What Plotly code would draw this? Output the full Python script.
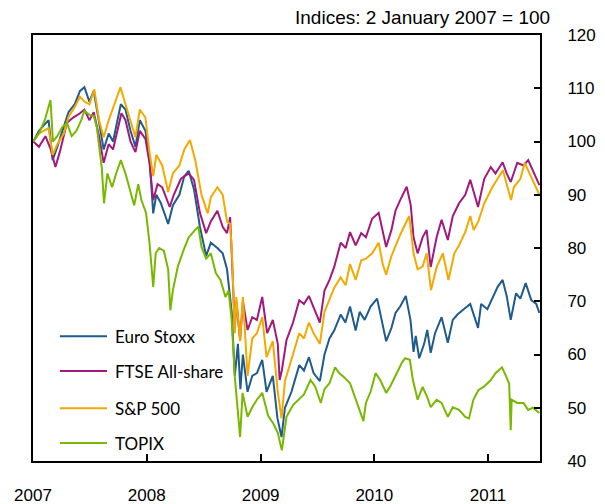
import plotly.graph_objects as go

# index values, 2 January 2007 = 100
euro_dates = ['2007-01-02','2007-01-20','2007-02-20','2007-03-05','2007-03-20','2007-04-10','2007-04-25','2007-05-15','2007-06-01','2007-06-15','2007-07-01','2007-07-15','2007-08-01','2007-08-16','2007-09-01','2007-09-15','2007-10-10','2007-10-25','2007-11-10','2007-11-26','2007-12-10','2007-12-28',
              '2008-01-10','2008-01-22','2008-02-01','2008-02-15','2008-03-10','2008-03-25','2008-04-15','2008-05-01','2008-05-15','2008-06-01','2008-06-20','2008-07-10','2008-07-25','2008-08-15','2008-09-01','2008-09-15','2008-09-30','2008-10-10','2008-10-20','2008-10-28','2008-11-05','2008-11-20','2008-12-05','2008-12-20',
              '2009-01-06','2009-01-20','2009-02-09','2009-02-24','2009-03-09','2009-03-20','2009-04-10','2009-05-05','2009-05-20','2009-06-05','2009-06-20','2009-07-10','2009-07-25','2009-08-10','2009-08-25','2009-09-15','2009-09-30','2009-10-15','2009-11-02','2009-11-15','2009-12-01','2009-12-20',
              '2010-01-10','2010-01-25','2010-02-08','2010-02-25','2010-03-10','2010-03-25','2010-04-12','2010-04-27','2010-05-07','2010-05-14','2010-05-25','2010-06-10','2010-06-20','2010-07-01','2010-07-15','2010-08-05','2010-08-25','2010-09-10','2010-09-25','2010-10-15','2010-11-05','2010-11-30','2010-12-10','2010-12-30',
              '2011-01-15','2011-02-01','2011-02-17','2011-03-02','2011-03-15','2011-04-01','2011-04-15','2011-05-02','2011-05-20','2011-06-05','2011-06-15']
euro_vals = [100,102,104,96.5,99,103,105.5,107,109.5,110.2,107.5,109.5,104,98.5,101.5,100,107,106,102,99,104,102,
             97,86.5,90,88.5,84.5,88,90,93.5,94.5,91,84,78.5,81,80,79,76,68,56,62,53.5,60,53,56,56.5,
             59,53,56,48,44.5,50,53,58,57,59.5,56.5,55,60,63,64.5,67.5,66,69,64.5,68,66.5,69,
             70.5,66,62.5,65,67.8,69,71,66.5,60.5,63.5,59.3,62,64.6,60.3,64,67,62.2,66.5,67.5,68.5,69.5,65,69.5,68.5,
             70.5,72.7,74,71,66.5,71.5,70.5,73.4,70.2,69.5,67.8]

ftse_dates = ['2007-01-02','2007-01-20','2007-02-10','2007-02-27','2007-03-14','2007-03-28','2007-04-20','2007-05-10','2007-06-01','2007-06-15','2007-07-01','2007-07-15','2007-08-01','2007-08-16','2007-09-01','2007-09-15','2007-10-12','2007-10-25','2007-11-10','2007-11-26','2007-12-10','2007-12-28',
              '2008-01-10','2008-01-22','2008-02-05','2008-02-20','2008-03-15','2008-03-28','2008-04-20','2008-05-15','2008-06-01','2008-06-20','2008-07-10','2008-07-25','2008-08-15','2008-09-01','2008-09-15','2008-09-25','2008-10-01','2008-10-10','2008-10-15','2008-10-27','2008-11-05','2008-11-20','2008-12-05','2008-12-20',
              '2009-01-06','2009-01-22','2009-02-09','2009-02-25','2009-03-03','2009-03-10','2009-03-25','2009-04-15','2009-05-05','2009-05-20','2009-06-05','2009-06-20','2009-07-10','2009-07-25','2009-08-10','2009-08-25','2009-09-15','2009-10-01','2009-10-15','2009-11-02','2009-11-20','2009-12-05','2009-12-25',
              '2010-01-15','2010-01-28','2010-02-08','2010-02-25','2010-03-10','2010-03-25','2010-04-15','2010-04-28','2010-05-07','2010-05-20','2010-06-05','2010-06-18','2010-07-01','2010-07-20','2010-08-05','2010-08-25','2010-09-10','2010-09-30','2010-10-20','2010-11-05','2010-11-30','2010-12-20',
              '2011-01-10','2011-01-25','2011-02-17','2011-03-02','2011-03-15','2011-04-05','2011-04-25','2011-05-10','2011-05-25','2011-06-15']
ftse_vals = [100,99,101,98.5,95.2,98,103.5,104.5,105.3,106,104,105.5,101,96,99.5,98.5,105.3,104,100,98,102,100.5,
             96,89,92,91.4,87.7,90,93,94,92.8,86.6,82.8,85,87,84,82.8,85.8,77.7,65,70,62.7,70,64.6,67,66.5,
             70.8,64,66.5,62,55.2,57,62.7,66,70.2,69.5,71,69,66,72,74,76.4,81,80,83,80.5,82.8,82,85.5,
             86.6,83,80.2,83.4,87,89,91.5,88,82,79,82,83.4,76.4,82,85.3,81.5,86,88.4,90,92.8,87.7,93,
             95.2,94,96.1,94,92.4,96,95.5,96.5,94.6,91.8]

sp_dates = ['2007-01-02','2007-01-20','2007-02-20','2007-03-05','2007-03-20','2007-04-10','2007-04-25','2007-05-15','2007-06-01','2007-06-15','2007-07-01','2007-07-17','2007-08-01','2007-08-16','2007-09-01','2007-09-20','2007-10-09','2007-10-25','2007-11-10','2007-11-26','2007-12-10','2007-12-28',
            '2008-01-10','2008-01-22','2008-02-01','2008-02-20','2008-03-10','2008-03-25','2008-04-15','2008-05-01','2008-05-19','2008-06-05','2008-06-25','2008-07-15','2008-07-25','2008-08-15','2008-09-01','2008-09-15','2008-09-25','2008-10-01','2008-10-10','2008-10-15','2008-10-27','2008-11-05','2008-11-20','2008-12-05','2008-12-20',
            '2009-01-06','2009-01-20','2009-02-09','2009-02-25','2009-03-09','2009-03-20','2009-04-10','2009-05-05','2009-05-20','2009-06-05','2009-06-20','2009-07-10','2009-07-25','2009-08-10','2009-08-25','2009-09-15','2009-10-01','2009-10-15','2009-11-02','2009-11-20','2009-12-05','2009-12-25',
            '2010-01-15','2010-01-28','2010-02-08','2010-02-25','2010-03-10','2010-03-25','2010-04-23','2010-05-07','2010-05-20','2010-06-05','2010-06-18','2010-07-02','2010-07-20','2010-08-09','2010-08-27','2010-09-15','2010-09-30','2010-10-20','2010-11-05','2010-11-16','2010-12-01','2010-12-20',
            '2011-01-15','2011-02-18','2011-03-02','2011-03-16','2011-03-25','2011-04-15','2011-04-29','2011-05-20','2011-06-15']
sp_vals = [100,101.5,102.5,97.5,99.5,101.5,104.6,106.5,108.4,107.5,107,109.8,104,100.8,104,107,110.2,107,104,100.8,106,104.5,
           98,93.5,97.5,95.5,90.5,94,95.5,98.5,100.3,96.5,90,86.5,89.5,91.4,90,85,84.5,79,64,70.8,62.5,70.8,56,63,64,
           67,59.5,62.5,53,48,55,59,64,63,66,64,62,68,70.5,72.5,74.5,73,77,74,77.7,78,79,
           81,77,75,78.5,80.5,82.5,86,79,76,76.5,79,72.1,76.4,79,74,79,80.5,83,86,83.4,85,88.4,
           91.4,94.6,92,89,91.4,93,96,93.3,90]

topix_dates = ['2007-01-02','2007-01-20','2007-02-08','2007-02-26','2007-03-01','2007-03-06','2007-03-20','2007-04-05','2007-04-20','2007-05-05','2007-05-20','2007-06-05','2007-06-15','2007-07-01','2007-07-15','2007-07-25','2007-08-10','2007-08-17','2007-08-28','2007-09-12','2007-09-25','2007-10-10','2007-10-25','2007-11-10','2007-11-22','2007-12-05','2007-12-15','2007-12-30',
               '2008-01-10','2008-01-22','2008-01-30','2008-02-10','2008-02-25','2008-03-10','2008-03-17','2008-03-25','2008-04-10','2008-05-01','2008-05-15','2008-06-05','2008-06-15','2008-06-25','2008-07-10','2008-07-25','2008-08-10','2008-08-25','2008-09-10','2008-09-20','2008-09-30','2008-10-10','2008-10-15','2008-10-27','2008-11-04','2008-11-20','2008-12-05','2008-12-20',
               '2009-01-06','2009-01-25','2009-02-10','2009-02-25','2009-03-10','2009-03-25','2009-04-15','2009-05-01','2009-05-20','2009-06-10','2009-06-25','2009-07-13','2009-07-25','2009-08-10','2009-08-28','2009-09-10','2009-09-25','2009-10-15','2009-10-30','2009-11-20','2009-11-27','2009-12-05','2009-12-20',
               '2010-01-05','2010-01-20','2010-02-08','2010-02-20','2010-03-10','2010-03-30','2010-04-10','2010-04-25','2010-05-05','2010-05-20','2010-06-05','2010-06-20','2010-07-01','2010-07-20','2010-08-05','2010-08-25','2010-09-10','2010-09-30','2010-10-20','2010-11-01','2010-11-15','2010-12-01','2010-12-20',
               '2011-01-10','2011-01-25','2011-02-15','2011-03-01','2011-03-10','2011-03-15','2011-03-18','2011-04-05','2011-04-25','2011-05-10','2011-05-25','2011-06-15']
topix_vals = [100,101.5,104,107.8,105,100,101,102.7,103.5,101,102,104,105.8,105,104.8,102.7,95,88.4,94,91.4,94,96.5,94,90.3,88,92,89,86.6,
              81,72.7,79,80,79.5,76,68.3,72,76.5,80,82,83.4,84,80.2,78,79,75.3,74,70.8,72,66.5,55.8,52,44.5,52.8,48.3,50.1,51.5,
              52.8,48.5,47.1,45.3,42,48.3,50.5,51.5,52.5,55.2,54,50.9,53.5,54.6,57.6,56.5,55.8,54.6,52,48.3,47.5,50.9,53,
              56.5,55.2,52.8,53.9,56,58.4,59.3,59,55.2,51.5,53.9,52,50.1,51.5,50.9,48.3,50.1,49.6,48.3,48,51.5,53.3,54,
              55.2,56.5,57.6,55.8,54.5,45.8,51.5,50.9,50.9,49.6,50,49]

names = ['Euro Stoxx', 'FTSE All-share', 'S&P 500', 'TOPIX']
colors = ['#1f5b8c', '#a2197e', '#f2a900', '#78b800']
series = [(euro_dates, euro_vals), (ftse_dates, ftse_vals), (sp_dates, sp_vals), (topix_dates, topix_vals)]

fig = go.Figure()
for (d, v), n, c in zip(series, names, colors):
    fig.add_trace(go.Scatter(x=d, y=v, name=n, mode='lines',
                             line=dict(color=c, width=2)))

# hand-drawn legend, like the original
legend_y = [0.293, 0.211, 0.124, 0.042]
for n, c, yy in zip(names, colors, legend_y):
    fig.add_shape(type='line', xref='paper', yref='paper', x0=0.053, x1=0.146, y0=yy, y1=yy,
                  line=dict(color=c, width=2))
    fig.add_annotation(text=n, xref='paper', yref='paper', x=0.158, y=yy, xanchor='left', yanchor='middle',
                       showarrow=False, font=dict(family='Lato', size=17, color='black'))

fig.add_annotation(text='Indices: 2 January 2007 = 100', xref='paper', yref='paper', x=1.024, y=1.04,
                   xanchor='right', yanchor='middle', showarrow=False,
                   font=dict(family='Liberation Sans', size=19, color='black'))

# page body has an 8px margin, so the figure is 8px smaller than the window
fig.update_layout(
    width=597, height=496,
    margin=dict(l=25, r=65, t=27, b=43),
    plot_bgcolor='white', paper_bgcolor='white',
    showlegend=False,
    font=dict(family='Liberation Sans', size=17, color='black'),
    xaxis=dict(range=['2007-01-01', '2011-06-17'], showgrid=False, zeroline=False, automargin=False,
               tickvals=['2007-01-01', '2008-01-01', '2009-01-01', '2010-01-01', '2011-01-01'],
               ticktext=['2007', '2008', '2009', '2010', '2011'],
               ticks='inside', ticklen=7, tickwidth=1.5, tickcolor='black',
               showline=True, linecolor='black', linewidth=2, mirror=True,
               ticklabelstandoff=18),
    yaxis=dict(range=[40, 120], dtick=10, side='right', showgrid=False, zeroline=False, automargin=False,
               ticks='inside', ticklen=6, tickwidth=1.5, tickcolor='black',
               showline=True, linecolor='black', linewidth=2, mirror=True,
               ticklabelstandoff=22),
)

fig.write_html("out.html")
